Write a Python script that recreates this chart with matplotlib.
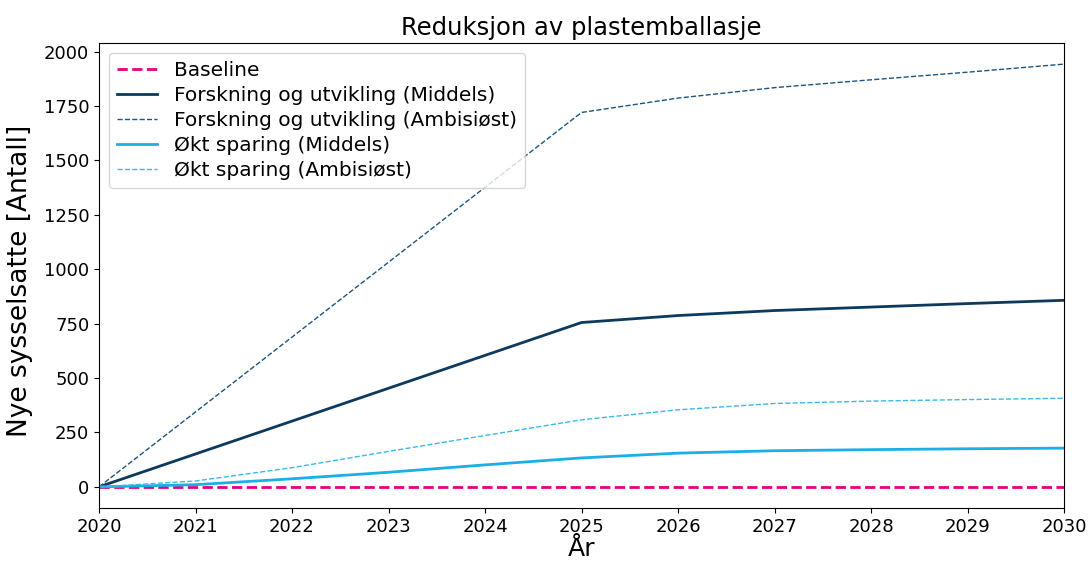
import matplotlib
matplotlib.use("Agg")
import matplotlib.pyplot as plt

years = [2020, 2021, 2022, 2023, 2024, 2025, 2026, 2027, 2028, 2029, 2030]
baseline = [0, 0, 0, 0, 0, 0, 0, 0, 0, 0, 0]
fou_middels = [0, 151, 302, 453, 604, 755, 787, 810, 826, 842, 857]
fou_ambisiost = [0, 344, 688, 1032, 1376, 1720, 1786, 1834, 1870, 1905, 1942]
okt_middels = [0, 10, 37, 67, 101, 133, 155, 166, 171, 175, 178]
okt_ambisiost = [0, 27, 88, 163, 236, 308, 354, 383, 394, 401, 407]

navy = "#0b3a5e"
light = "#1aafe6"
pink = "#e6007e"

fig = plt.figure(figsize=(10.89, 5.62), dpi=100)
ax = fig.add_axes([99/1089, 1-508/562, (1064-99)/1089, (508-43)/562])

ax.plot(years, baseline, color=pink, lw=2, ls="--", label="Baseline")
ax.plot(years, fou_middels, color=navy, lw=2, label="Forskning og utvikling (Middels)")
ax.plot(years, fou_ambisiost, color="#1d5580", lw=1, ls="--", label="Forskning og utvikling (Ambisiøst)")
ax.plot(years, okt_middels, color=light, lw=2, label="Økt sparing (Middels)")
ax.plot(years, okt_ambisiost, color="#3bb9e8", lw=1, ls="--", label="Økt sparing (Ambisiøst)")

ax.set_xlim(2020, 2030)
ax.set_xticks(years)
ax.set_yticks([0, 250, 500, 750, 1000, 1250, 1500, 1750, 2000])
ax.tick_params(labelsize=13)
ax.set_title("Reduksjon av plastemballasje", fontsize=17.5)
ax.set_xlabel("År", fontsize=18, labelpad=1)
ax.set_ylabel("Nye sysselsatte [Antall]", fontsize=19)
ax.yaxis.set_label_coords(-0.068, 0.489)
ax.legend(loc="upper left", fontsize=14.5, handlelength=2.0, borderpad=0.4, labelspacing=0.3)

fig.savefig("out.png", dpi=100)
